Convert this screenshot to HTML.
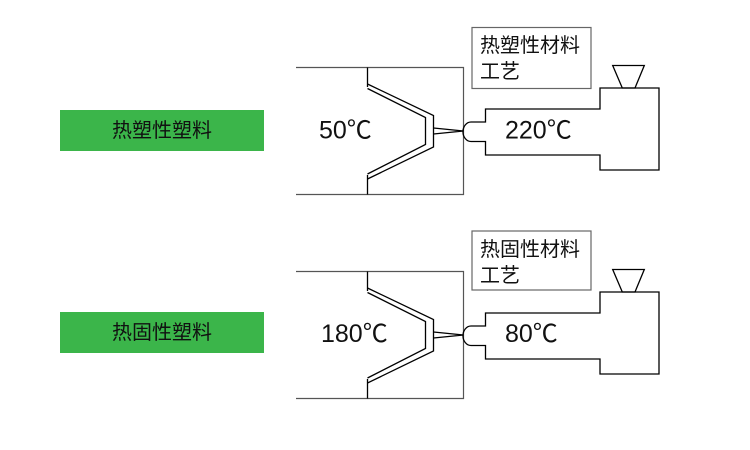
<!DOCTYPE html>
<html>
<head>
<meta charset="utf-8">
<style>
html,body{margin:0;padding:0;background:#fff;}
svg{display:block;}
text{font-family:"Liberation Sans","Noto Sans CJK SC",sans-serif;}
</style>
</head>
<body>
<svg width="750" height="450" viewBox="0 0 750 450" xmlns="http://www.w3.org/2000/svg">
  <rect width="750" height="450" fill="#fff"/>

  <!-- Green labels -->
  <rect x="60" y="110" width="204" height="41" fill="#3bb54a"/>
  <text x="162" y="137" font-size="20" text-anchor="middle" fill="#111">热塑性塑料</text>
  <rect x="60" y="312" width="204" height="41" fill="#3bb54a"/>
  <text x="162" y="339" font-size="20" text-anchor="middle" fill="#111">热固性塑料</text>

  <!-- Diagram 1 -->
  <g>
    <g fill="none" stroke="#555" stroke-width="1.2">
      <polyline points="296,67.5 463.5,67.5 463.5,194.5 296,194.5"/>
    </g>
    <g fill="none" stroke="#000" stroke-width="1.3">
      <line x1="367.5" y1="67.5" x2="367.5" y2="87"/>
      <line x1="367.5" y1="175" x2="367.5" y2="194.5"/>
      <polyline points="367.5,84 433.5,115.5 433.5,147 367.5,179"/>
      <polyline points="367.5,88.5 425.5,117.5 425.5,144.5 367.5,174"/>
      <polyline points="433.5,128 463.5,131 433.5,134"/>
      <path d="M471,122 A8,9.7 0 0 0 471,141.5"/>
      <path d="M471,122 H485.5 V109 H600 V88 H659 V170 H600 V155 H485.5 V141.5 H471"/>
      <polygon points="612.7,65.5 644.3,65.5 635,88 622.3,88"/>
    </g>
    <rect x="472" y="27.5" width="119" height="61" fill="none" stroke="#666" stroke-width="1.2"/>
    <text x="480" y="52" font-size="20" fill="#111">热塑性材料</text>
    <text x="480" y="78" font-size="20" fill="#111">工艺</text>
    <text x="319" y="138.5" font-size="25" fill="#111">50℃</text>
    <text x="505" y="138.5" font-size="25" fill="#111">220℃</text>
  </g>

  <!-- Diagram 2 -->
  <g transform="translate(0,204)">
    <g fill="none" stroke="#555" stroke-width="1.2">
      <polyline points="296,67.5 463.5,67.5 463.5,194.5 296,194.5"/>
    </g>
    <g fill="none" stroke="#000" stroke-width="1.3">
      <line x1="367.5" y1="67.5" x2="367.5" y2="87"/>
      <line x1="367.5" y1="175" x2="367.5" y2="194.5"/>
      <polyline points="367.5,84 433.5,115.5 433.5,147 367.5,179"/>
      <polyline points="367.5,88.5 425.5,117.5 425.5,144.5 367.5,174"/>
      <polyline points="433.5,128 463.5,131 433.5,134"/>
      <path d="M471,122 A8,9.7 0 0 0 471,141.5"/>
      <path d="M471,122 H485.5 V109 H600 V88 H659 V170 H600 V155 H485.5 V141.5 H471"/>
      <polygon points="612.7,65.5 644.3,65.5 635,88 622.3,88"/>
    </g>
    <rect x="472" y="27" width="119" height="59" fill="none" stroke="#666" stroke-width="1.2"/>
    <text x="480" y="52" font-size="20" fill="#111">热固性材料</text>
    <text x="480" y="78" font-size="20" fill="#111">工艺</text>
    <text x="321" y="138" font-size="25" fill="#111">180℃</text>
    <text x="505" y="138" font-size="25" fill="#111">80℃</text>
  </g>
</svg>
</body>
</html>
